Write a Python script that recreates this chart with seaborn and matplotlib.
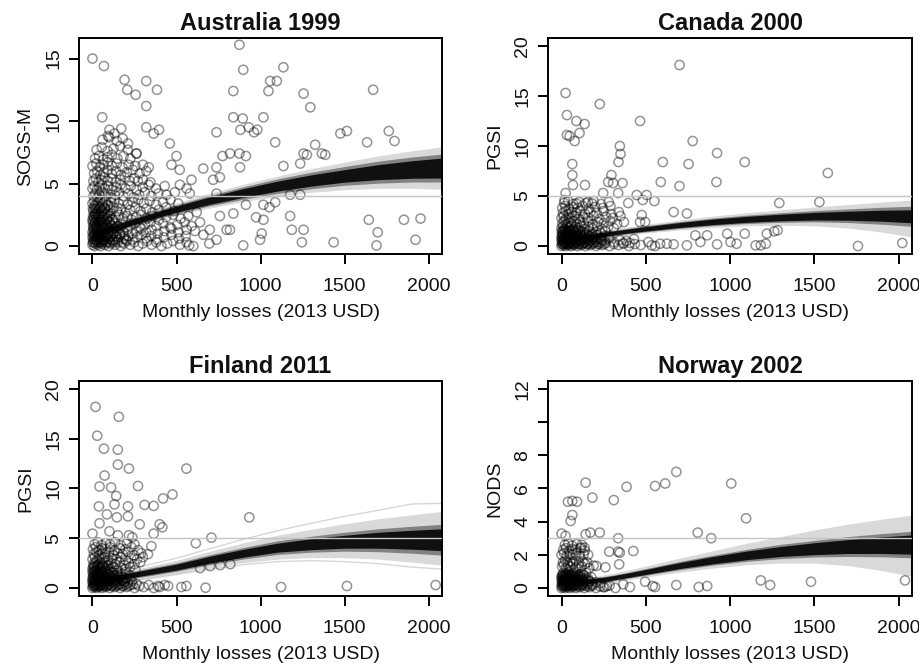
import numpy as np
import pandas as pd
import matplotlib
matplotlib.use("Agg")
import matplotlib.pyplot as plt
import seaborn as sns

# ---- data ----
loss_grid = [0, 100, 200, 300, 400, 500, 700, 900, 1100, 1300, 1500, 1700, 1900, 2080]
loss_ticks = [0, 500, 1000, 1500, 2000]

# Australia 1999 (SOGS-M)
aus_points = [
    # dense cluster
    (0, 0.1), (6, 0.3), (12, 0.0), (18, 0.2), (25, 0.4), (32, 0.1), (40, 0.3), (48, 0.0), (56, 0.2), (65, 0.4),
    (74, 0.1), (85, 0.3), (96, 0.0), (108, 0.2), (120, 0.4), (135, 0.1), (150, 0.3), (168, 0.0), (186, 0.2),
    (205, 0.4), (225, 0.1), (248, 0.3), (272, 0.0), (298, 0.2), (325, 0.4), (352, 0.1), (380, 0.3), (410, 0.0),
    (445, 0.2), (480, 0.4), (520, 0.1), (560, 0.3), (600, 0.0),
    (2, 0.6), (9, 0.8), (16, 0.5), (24, 0.7), (33, 0.9), (42, 0.6), (52, 0.8), (62, 0.5), (72, 0.7), (84, 0.9),
    (97, 0.6), (112, 0.8), (128, 0.5), (146, 0.7), (166, 0.9), (188, 0.6), (212, 0.8), (238, 0.5), (265, 0.7),
    (292, 0.9), (320, 0.6), (350, 0.8), (385, 0.5), (425, 0.7), (470, 0.9), (515, 0.6), (555, 0.8),
    (0, 1.1), (8, 1.3), (15, 1.0), (22, 1.2), (30, 1.4), (38, 1.1), (47, 1.3), (57, 1.0), (68, 1.2), (80, 1.4),
    (93, 1.1), (108, 1.3), (124, 1.0), (142, 1.2), (162, 1.4), (184, 1.1), (208, 1.3), (234, 1.0), (262, 1.2),
    (290, 1.4), (320, 1.1), (352, 1.3), (388, 1.0), (428, 1.2), (470, 1.4), (512, 1.1), (560, 1.3), (610, 1.2),
    (4, 1.6), (12, 1.8), (20, 1.5), (29, 1.7), (38, 1.9), (48, 1.6), (59, 1.8), (71, 1.5), (84, 1.7), (98, 1.9),
    (114, 1.6), (132, 1.8), (152, 1.5), (174, 1.7), (198, 1.9), (224, 1.6), (252, 1.8), (282, 1.5), (312, 1.7),
    (345, 1.9), (380, 1.6), (420, 1.8), (462, 1.5), (505, 1.7), (548, 1.9), (590, 1.6),
    (0, 2.1), (8, 2.3), (17, 2.5), (26, 2.2), (36, 2.4), (47, 2.1), (59, 2.3), (72, 2.5), (86, 2.2), (101, 2.4),
    (118, 2.1), (137, 2.3), (158, 2.5), (181, 2.2), (206, 2.4), (233, 2.1), (262, 2.3), (292, 2.5), (324, 2.2),
    (358, 2.4), (395, 2.1), (438, 2.3), (480, 2.5), (525, 2.2), (570, 2.4),
    (5, 2.8), (14, 3.0), (24, 2.7), (35, 2.9), (47, 3.1), (60, 2.8), (74, 3.0), (90, 2.7), (107, 2.9), (126, 3.1),
    (147, 2.8), (170, 3.0), (196, 2.7), (224, 2.9), (254, 3.1), (286, 2.8), (320, 3.0), (356, 2.7), (395, 2.9),
    (438, 3.1), (485, 2.8),
    (0, 3.4), (10, 3.6), (21, 3.3), (33, 3.5), (46, 3.7), (60, 3.4), (76, 3.6), (93, 3.3), (112, 3.5), (133, 3.7),
    (156, 3.4), (182, 3.6), (210, 3.3), (240, 3.5), (272, 3.7), (305, 3.4), (340, 3.6), (378, 3.3), (420, 3.5),
    (465, 3.7), (510, 3.4),
    (6, 4.0), (17, 4.2), (29, 3.9), (42, 4.1), (57, 4.3), (73, 4.0), (91, 4.2), (111, 3.9), (133, 4.1), (157, 4.3),
    (184, 4.0), (213, 4.2), (245, 3.9), (278, 4.1), (312, 4.3), (350, 4.0), (392, 4.2), (440, 4.1), (490, 4.3),
    (0, 4.6), (12, 4.8), (26, 4.5), (41, 4.7), (57, 4.9), (75, 4.6), (95, 4.8), (117, 4.5), (141, 4.7), (167, 4.9),
    (196, 4.6), (228, 4.8), (262, 4.5), (298, 4.7), (335, 4.9), (378, 4.6), (430, 4.8), (520, 4.9), (560, 4.6),
    (5, 5.2), (20, 5.4), (36, 5.1), (53, 5.3), (72, 5.5), (92, 5.2), (114, 5.4), (138, 5.1), (164, 5.3), (192, 5.5),
    (222, 5.2), (250, 5.4), (270, 5.2), (300, 5.3), (345, 5.1),
    (10, 5.8), (28, 6.0), (47, 5.7), (68, 5.9), (90, 6.1), (114, 5.8), (140, 6.0), (170, 5.7), (205, 5.9),
    (240, 6.1), (280, 5.8), (320, 6.0),
    (0, 6.4), (22, 6.6), (44, 6.3), (66, 6.5), (90, 6.7), (116, 6.4), (145, 6.6), (178, 6.3), (215, 6.5),
    (255, 6.4), (300, 6.5), (335, 6.3),
    (15, 7.0), (38, 7.2), (62, 6.9), (88, 7.1), (116, 7.3), (148, 7.0), (185, 7.2), (225, 7.0), (262, 7.4),
    (25, 7.7), (55, 7.9), (90, 7.6), (125, 7.8), (165, 8.0), (210, 7.7),
    (60, 8.5), (100, 8.7), (145, 8.4), (180, 8.6),
    # scattered
    (0, 15.0), (68, 14.4), (191, 13.3), (207, 12.5), (257, 12.1), (320, 13.2), (384, 12.5), (320, 11.2),
    (58, 10.3), (320, 9.5), (396, 9.3), (364, 9.0), (101, 9.3), (131, 9.0), (171, 9.4), (92, 8.8), (460, 8.2),
    (211, 8.2), (261, 7.4), (500, 7.2), (470, 6.5), (519, 6.1), (659, 6.2), (738, 6.3), (774, 7.2), (818, 7.4),
    (718, 5.3), (758, 5.5), (589, 5.3), (579, 4.2), (738, 4.2),
    (874, 16.1), (897, 14.1), (838, 12.4), (1047, 12.4), (1057, 13.2), (1097, 13.2), (1136, 14.3), (1256, 12.2),
    (1296, 11.1), (838, 10.3), (894, 10.2), (1017, 10.3), (880, 9.3), (930, 9.5), (961, 9.1), (981, 9.3),
    (738, 9.1), (1087, 8.3), (874, 7.4), (913, 7.2), (878, 6.3), (1325, 8.1), (1256, 7.4), (1276, 7.3),
    (1365, 7.4), (1385, 7.3), (1475, 9.0), (1514, 9.2), (1634, 8.3), (1670, 12.5), (1763, 9.2), (1797, 8.4),
    (1136, 6.4), (1236, 6.6), (1176, 4.1), (1236, 4.1),
    (1644, 2.1), (1697, 1.1), (1690, 0.05), (1853, 2.1), (1952, 2.2), (1922, 0.5), (1435, 0.3), (1246, 0.3),
    (1256, 1.3), (1176, 2.4), (1186, 1.3), (1017, 2.1), (973, 2.3), (1007, 1.0), (997, 0.5), (897, 0.05),
    (1053, 3.1), (1017, 3.3), (1087, 3.5), (913, 3.3), (838, 2.6), (818, 1.3), (798, 1.3), (758, 2.4),
    (698, 1.3), (695, 0.2), (738, 0.5), (575, 0.05), (640, 1.9), (660, 0.9), (620, 2.7),
]
# extra respondents packed near the origin (the solid black blob)
aus_core_points = [
    (3, 0.3), (10, 0.5), (17, 0.3), (24, 0.5), (31, 0.3), (38, 0.5), (45, 0.3), (53, 0.5), (61, 0.3), (70, 0.5),
    (80, 0.3), (90, 0.5), (102, 0.3), (115, 0.5), (130, 0.3), (150, 0.5), (175, 0.3), (200, 0.5),
    (1, 0.8), (8, 1.0), (15, 0.8), (22, 1.0), (29, 0.8), (36, 1.0), (44, 0.8), (52, 1.0), (61, 0.8), (71, 1.0),
    (82, 0.8), (94, 1.0), (108, 0.8), (124, 1.0), (142, 0.8), (165, 1.0), (190, 0.8),
    (5, 1.4), (12, 1.6), (19, 1.4), (26, 1.6), (34, 1.4), (42, 1.6), (51, 1.4), (61, 1.6), (72, 1.4), (84, 1.6),
    (97, 1.4), (112, 1.6), (130, 1.4), (150, 1.6),
    (2, 1.9), (9, 2.1), (16, 1.9), (24, 2.1), (32, 1.9), (41, 2.1), (51, 1.9), (62, 2.1), (74, 1.9), (88, 2.1),
    (104, 1.9), (122, 2.1),
    (4, 2.4), (12, 2.6), (20, 2.4), (29, 2.6), (39, 2.4), (50, 2.6), (62, 2.4), (76, 2.6), (92, 2.4), (110, 2.6),
    (3, 3.0), (12, 3.2), (22, 3.0), (33, 3.2), (45, 3.0), (58, 3.2), (73, 3.0), (90, 3.2),
]
aus_core_lo = [0.64, 1.10, 1.53, 1.94, 2.33, 2.70, 3.34, 3.90, 4.39, 4.79, 5.11, 5.31, 5.42, 5.44]
aus_core_hi = [1.08, 1.54, 1.97, 2.40, 2.81, 3.20, 3.94, 4.60, 5.19, 5.69, 6.11, 6.51, 6.82, 7.04]
aus_inner_lo = [0.56, 1.02, 1.45, 1.85, 2.23, 2.59, 3.22, 3.75, 4.21, 4.58, 4.86, 5.03, 5.12, 5.12]
aus_inner_hi = [1.16, 1.62, 2.05, 2.49, 2.91, 3.31, 4.06, 4.75, 5.37, 5.90, 6.36, 6.79, 7.12, 7.36]
aus_outer_lo = [0.46, 0.92, 1.33, 1.72, 2.09, 2.45, 3.04, 3.55, 3.99, 4.29, 4.51, 4.61, 4.62, 4.54]
aus_outer_hi = [1.26, 1.72, 2.17, 2.62, 3.05, 3.45, 4.24, 4.95, 5.59, 6.19, 6.71, 7.21, 7.62, 7.94]

# Canada 2000 (PGSI)
can_points = [
    (0, 0.0), (6, 0.2), (12, 0.1), (18, 0.3), (25, 0.0), (32, 0.2), (40, 0.1), (48, 0.3), (56, 0.0), (65, 0.2),
    (74, 0.1), (84, 0.3), (95, 0.0), (106, 0.2), (118, 0.1), (130, 0.3), (143, 0.0), (157, 0.2), (172, 0.1),
    (188, 0.3), (205, 0.0), (223, 0.2), (242, 0.1), (262, 0.3), (285, 0.0), (310, 0.2), (338, 0.1), (368, 0.3),
    (400, 0.0), (435, 0.2), (470, 0.1),
    (3, 0.5), (10, 0.7), (17, 0.4), (24, 0.6), (32, 0.5), (40, 0.7), (49, 0.4), (58, 0.6), (68, 0.5), (78, 0.7),
    (89, 0.4), (101, 0.6), (114, 0.5), (128, 0.7), (143, 0.4), (159, 0.6), (176, 0.5), (194, 0.7), (213, 0.4),
    (233, 0.6), (255, 0.5), (280, 0.7), (310, 0.4), (345, 0.6), (385, 0.5), (430, 0.7),
    (0, 0.9), (7, 1.1), (14, 0.8), (22, 1.0), (30, 0.9), (39, 1.1), (48, 0.8), (58, 1.0), (69, 0.9), (81, 1.1),
    (94, 0.8), (108, 1.0), (123, 0.9), (139, 1.1), (156, 0.8), (174, 1.0), (193, 0.9), (213, 1.1), (235, 0.8),
    (258, 1.0), (285, 0.9),
    (4, 1.3), (12, 1.5), (20, 1.2), (29, 1.4), (38, 1.3), (48, 1.5), (59, 1.2), (71, 1.4), (84, 1.3), (98, 1.5),
    (113, 1.2), (129, 1.4), (146, 1.3), (164, 1.5), (183, 1.2), (205, 1.4), (230, 1.3), (260, 1.5),
    (0, 1.8), (9, 2.0), (19, 1.7), (30, 1.9), (42, 1.8), (55, 2.0), (69, 1.7), (84, 1.9), (100, 1.8), (118, 2.0),
    (138, 1.7), (160, 1.9), (185, 1.8), (212, 2.0), (242, 1.7), (275, 1.9), (310, 1.8),
    (5, 2.3), (16, 2.5), (28, 2.2), (41, 2.4), (56, 2.3), (72, 2.5), (90, 2.2), (110, 2.4), (132, 2.3), (157, 2.5),
    (185, 2.2), (215, 2.4), (250, 2.3), (290, 2.5), (330, 2.2), (370, 2.4),
    (0, 2.8), (12, 3.0), (26, 2.7), (42, 2.9), (60, 2.8), (80, 3.0), (102, 2.7), (128, 2.9), (157, 2.8), (190, 3.0),
    (225, 2.7), (265, 2.9), (305, 2.8), (350, 3.0),
    (8, 3.3), (24, 3.5), (42, 3.2), (62, 3.4), (85, 3.3), (110, 3.5), (140, 3.2), (172, 3.4), (208, 3.3),
    (250, 3.5), (295, 3.2), (340, 3.4),
    (4, 3.8), (22, 4.0), (44, 3.7), (68, 3.9), (95, 3.8), (125, 4.0), (160, 3.7), (200, 3.9), (245, 3.8), (290, 4.0),
    (15, 4.3), (40, 4.5), (70, 4.2), (105, 4.4), (145, 4.3), (190, 4.5), (235, 4.2), (280, 4.4),
    (24, 15.3), (32, 13.1), (32, 11.1), (48, 11.0), (88, 12.5), (137, 12.2), (107, 11.3), (78, 10.5), (227, 14.2),
    (466, 12.5), (700, 18.1), (778, 10.5), (754, 8.2), (601, 8.4), (923, 9.3), (919, 6.4), (1087, 8.4),
    (1580, 7.3), (1530, 4.4), (1292, 4.3), (700, 6.0), (589, 6.4), (346, 10.0), (350, 9.2), (338, 8.4),
    (64, 8.2), (64, 7.1), (68, 6.1), (139, 6.1), (296, 7.1), (277, 6.4), (306, 6.3), (362, 6.3), (336, 5.3),
    (247, 5.3), (446, 5.1), (505, 5.1), (482, 4.6), (551, 4.5), (396, 4.3), (665, 3.4), (744, 3.25), (476, 3.1),
    (496, 2.4), (466, 2.4), (24, 5.3), (18, 4.6), (88, 4.25), (157, 4.4), (181, 4.25),
    (824, 0.4), (923, 0.17), (1003, 0.4), (1039, 0.23), (1152, 0.07), (1182, 0.07), (1212, 0.23), (1759, 0.0),
    (2022, 0.3), (1087, 1.24), (1262, 1.47), (1218, 1.24), (1282, 1.57), (665, 0.17), (744, 0.07), (585, 0.23),
    (535, 0.07), (515, 0.4), (555, 0.0), (625, 0.23), (366, 0.23), (406, 0.3), (794, 1.07), (864, 1.07),
    (983, 1.24),
]
can_core_points = [
    (2, 0.2), (9, 0.35), (15, 0.2), (21, 0.35), (28, 0.2), (36, 0.35), (44, 0.2), (52, 0.35), (61, 0.2),
    (70, 0.35), (80, 0.2), (91, 0.35), (102, 0.2), (113, 0.35), (125, 0.2), (138, 0.35), (151, 0.2), (165, 0.35),
    (180, 0.2), (196, 0.35), (214, 0.2), (233, 0.35), (253, 0.2),
    (0, 0.6), (6, 0.75), (13, 0.6), (20, 0.75), (28, 0.6), (36, 0.75), (45, 0.6), (54, 0.75), (63, 0.6),
    (73, 0.75), (84, 0.6), (95, 0.75), (107, 0.6), (120, 0.75), (134, 0.6), (149, 0.75), (165, 0.6), (182, 0.75),
    (200, 0.6), (220, 0.75), (242, 0.6),
    (3, 1.0), (10, 1.15), (18, 1.0), (26, 1.15), (35, 1.0), (44, 1.15), (53, 1.0), (63, 1.15), (74, 1.0),
    (86, 1.15), (99, 1.0), (113, 1.15), (128, 1.0), (145, 1.15), (163, 1.0), (183, 1.15),
    (1, 1.45), (9, 1.6), (17, 1.45), (26, 1.6), (35, 1.45), (45, 1.6), (56, 1.45), (68, 1.6), (81, 1.45),
    (95, 1.6), (111, 1.45),
]
can_core_lo = [0.30, 0.58, 0.84, 1.08, 1.31, 1.50, 1.85, 2.14, 2.37, 2.52, 2.60, 2.58, 2.48, 2.32]
can_core_hi = [0.70, 0.98, 1.24, 1.48, 1.71, 1.94, 2.35, 2.70, 2.97, 3.18, 3.36, 3.48, 3.58, 3.62]
can_inner_lo = [0.22, 0.50, 0.76, 1.00, 1.23, 1.42, 1.76, 2.04, 2.25, 2.37, 2.42, 2.35, 2.18, 1.97]
can_inner_hi = [0.78, 1.06, 1.32, 1.56, 1.79, 2.02, 2.44, 2.80, 3.09, 3.33, 3.54, 3.71, 3.88, 3.97]
can_outer_lo = [0.12, 0.40, 0.66, 0.90, 1.12, 1.30, 1.60, 1.85, 2.02, 2.08, 2.02, 1.80, 1.40, 0.90]
can_outer_hi = [0.88, 1.16, 1.42, 1.68, 1.92, 2.16, 2.60, 3.00, 3.33, 3.62, 3.90, 4.15, 4.40, 4.60]

# Finland 2011 (PGSI)
fin_points = [
    (0, 0.0), (6, 0.2), (12, 0.1), (18, 0.3), (25, 0.0), (32, 0.2), (40, 0.1), (48, 0.3), (57, 0.0), (67, 0.2),
    (78, 0.1), (90, 0.3), (103, 0.0), (117, 0.2), (132, 0.1), (148, 0.3), (165, 0.0), (183, 0.2), (203, 0.1),
    (225, 0.3), (250, 0.0), (278, 0.2), (305, 0.1), (335, 0.3), (365, 0.0),
    (3, 0.5), (10, 0.7), (17, 0.4), (25, 0.6), (33, 0.5), (42, 0.7), (52, 0.4), (63, 0.6), (75, 0.5), (88, 0.7),
    (102, 0.4), (117, 0.6), (133, 0.5), (150, 0.7), (168, 0.4), (188, 0.6), (210, 0.5), (235, 0.7), (262, 0.4),
    (0, 0.9), (7, 1.1), (15, 0.8), (23, 1.0), (32, 0.9), (42, 1.1), (53, 0.8), (65, 1.0), (78, 0.9), (92, 1.1),
    (107, 0.8), (123, 1.0), (140, 0.9), (158, 1.1), (178, 0.8), (200, 1.0), (225, 0.9),
    (4, 1.4), (12, 1.6), (21, 1.3), (31, 1.5), (42, 1.4), (54, 1.6), (67, 1.3), (81, 1.5), (96, 1.4), (112, 1.6),
    (130, 1.3), (150, 1.5), (172, 1.4), (196, 1.6), (222, 1.3),
    (0, 1.9), (10, 2.1), (21, 1.8), (33, 2.0), (46, 1.9), (60, 2.1), (75, 1.8), (91, 2.0), (108, 1.9), (127, 2.1),
    (148, 1.8), (171, 2.0), (196, 1.9), (224, 2.1), (255, 1.8),
    (6, 2.4), (18, 2.6), (31, 2.3), (45, 2.5), (60, 2.4), (77, 2.6), (95, 2.3), (115, 2.5), (137, 2.4), (161, 2.6),
    (188, 2.3), (218, 2.5), (250, 2.4), (285, 2.6),
    (0, 2.9), (13, 3.1), (27, 2.8), (42, 3.0), (58, 2.9), (76, 3.1), (96, 2.8), (118, 3.0), (142, 2.9), (168, 3.1),
    (198, 2.8), (230, 3.0), (265, 2.9), (300, 3.1),
    (8, 3.4), (23, 3.6), (39, 3.3), (57, 3.5), (77, 3.4), (99, 3.6), (123, 3.3), (150, 3.5), (180, 3.4),
    (212, 3.6), (248, 3.3), (290, 3.5), (330, 3.4),
    (3, 3.9), (20, 4.1), (38, 3.8), (58, 4.0), (80, 3.9), (105, 4.1), (132, 3.8), (162, 4.0), (195, 3.9),
    (232, 4.1), (272, 3.8),
    (12, 4.4), (32, 4.6), (54, 4.3), (78, 4.5), (105, 4.4), (135, 4.6), (168, 4.3), (205, 4.5), (250, 4.4),
    (18, 18.2), (157, 17.2), (28, 15.3), (68, 14.0), (151, 13.9), (151, 12.4), (217, 12.0), (559, 12.0),
    (72, 11.3), (42, 10.2), (111, 10.1), (271, 10.25), (141, 9.25), (476, 9.4), (420, 9.0), (38, 8.2),
    (131, 8.4), (211, 8.2), (310, 8.35), (364, 8.25), (86, 7.4), (145, 7.1), (211, 7.2), (281, 6.4), (400, 6.4),
    (416, 6.1), (933, 7.1), (615, 4.5), (708, 5.06), (217, 5.3), (364, 5.46), (0, 5.46), (42, 6.5), (101, 5.7),
    (151, 5.3), (237, 5.1), (350, 4.2),
    (1122, 0.1), (1514, 0.2), (2042, 0.3), (673, 0.03), (559, 0.2), (529, 0.1), (450, 0.2), (400, 0.1),
    (430, 0.3), (390, 0.2), (640, 2.0), (700, 2.2), (760, 2.3), (820, 2.4),
]
fin_core_points = [
    (2, 0.2), (9, 0.35), (15, 0.2), (22, 0.35), (29, 0.2), (36, 0.35), (44, 0.2), (52, 0.35), (62, 0.2),
    (72, 0.35), (84, 0.2), (96, 0.35), (110, 0.2), (125, 0.35), (140, 0.2), (157, 0.35), (175, 0.2), (194, 0.35),
    (215, 0.2), (240, 0.35),
    (0, 0.65), (6, 0.8), (13, 0.65), (20, 0.8), (28, 0.65), (37, 0.8), (46, 0.65), (56, 0.8), (67, 0.65),
    (79, 0.8), (92, 0.65), (106, 0.8), (121, 0.65), (137, 0.8), (155, 0.65), (174, 0.8), (195, 0.65),
    (3, 1.1), (10, 1.25), (18, 1.1), (27, 1.25), (36, 1.1), (46, 1.25), (57, 1.1), (69, 1.25), (82, 1.1),
    (96, 1.25), (111, 1.1), (128, 1.25), (146, 1.1), (166, 1.25),
    (1, 1.6), (9, 1.75), (17, 1.6), (26, 1.75), (36, 1.6), (47, 1.75), (59, 1.6), (72, 1.75), (86, 1.6),
    (102, 1.75), (120, 1.6),
    (4, 2.1), (13, 2.25), (23, 2.1), (34, 2.25), (46, 2.1), (59, 2.25), (74, 2.1), (90, 2.25),
]
fin_core_lo = [0.55, 0.70, 0.95, 1.23, 1.52, 1.80, 2.50, 3.10, 3.60, 3.85, 4.00, 4.00, 3.90, 3.75]
fin_core_hi = [1.05, 1.20, 1.45, 1.77, 2.08, 2.40, 3.20, 3.90, 4.50, 4.95, 5.30, 5.60, 5.80, 5.95]
fin_inner_lo = [0.45, 0.60, 0.85, 1.13, 1.40, 1.68, 2.35, 2.92, 3.37, 3.60, 3.70, 3.65, 3.50, 3.30]
fin_inner_hi = [1.15, 1.30, 1.55, 1.87, 2.20, 2.52, 3.35, 4.08, 4.73, 5.20, 5.60, 5.95, 6.20, 6.40]
fin_outer_lo = [0.30, 0.45, 0.70, 0.95, 1.20, 1.45, 2.05, 2.55, 2.90, 3.05, 3.05, 2.90, 2.60, 2.30]
fin_outer_hi = [1.30, 1.45, 1.72, 2.05, 2.42, 2.78, 3.70, 4.55, 5.30, 5.90, 6.45, 6.95, 7.35, 7.70]
fin_edge_hi = [1.40, 1.55, 1.85, 2.20, 2.60, 3.00, 3.95, 4.90, 5.75, 6.50, 7.20, 7.80, 8.45, 8.50]
fin_edge_lo = [0.30, 0.40, 0.60, 0.85, 1.10, 1.35, 1.90, 2.35, 2.65, 2.75, 2.65, 2.45, 2.10, 1.90]

# Norway 2002 (NODS)
nor_points = [
    (0, 0.0), (5, 0.1), (10, 0.05), (16, 0.15), (22, 0.0), (28, 0.1), (35, 0.05), (42, 0.15), (50, 0.0),
    (58, 0.1), (67, 0.05), (76, 0.15), (86, 0.0), (97, 0.1), (109, 0.05), (122, 0.15), (136, 0.0), (151, 0.1),
    (167, 0.05), (185, 0.15), (205, 0.0), (228, 0.1), (255, 0.05), (285, 0.15), (320, 0.0),
    (2, 0.3), (8, 0.4), (14, 0.25), (20, 0.35), (27, 0.3), (34, 0.4), (41, 0.25), (49, 0.35), (57, 0.3),
    (66, 0.4), (75, 0.25), (85, 0.35), (96, 0.3), (108, 0.4), (121, 0.25), (135, 0.35), (150, 0.3), (166, 0.4),
    (184, 0.25), (205, 0.35), (230, 0.3),
    (0, 0.55), (6, 0.65), (12, 0.5), (19, 0.6), (26, 0.55), (33, 0.65), (41, 0.5), (49, 0.6), (58, 0.55),
    (67, 0.65), (77, 0.5), (88, 0.6), (100, 0.55), (113, 0.65), (127, 0.5), (142, 0.6), (158, 0.55), (176, 0.65),
    (4, 0.8), (11, 0.9), (18, 0.75), (26, 0.85), (34, 0.8), (43, 0.9), (52, 0.75), (62, 0.85), (73, 0.8),
    (85, 0.9), (98, 0.75), (112, 0.85), (128, 0.8), (146, 0.9),
    (3, 1.3), (14, 1.4), (26, 1.2), (39, 1.35), (53, 1.3), (68, 1.45), (84, 1.2), (101, 1.35), (120, 1.3),
    (140, 1.45), (165, 1.2), (190, 1.35),
    (8, 1.55), (22, 1.65), (36, 1.5), (51, 1.6), (67, 1.55), (85, 1.65), (105, 1.5), (127, 1.6), (152, 1.55),
    (0, 2.0), (15, 2.1), (31, 1.95), (48, 2.05), (66, 2.0), (86, 2.1), (108, 1.95), (132, 2.05), (158, 2.0),
    (10, 2.3), (27, 2.4), (45, 2.25), (64, 2.35), (85, 2.3), (110, 2.4), (138, 2.25),
    (20, 2.6), (40, 2.7), (62, 2.55), (90, 2.65), (120, 2.6),
    (143, 6.35), (183, 5.45), (38, 5.2), (64, 5.25), (92, 5.2), (64, 4.4), (54, 4.04), (310, 5.3), (386, 6.1),
    (555, 6.15), (615, 6.3), (681, 7.0), (1007, 6.3), (1095, 4.2), (808, 3.34), (888, 3.0), (336, 3.0),
    (0, 3.28), (24, 3.14), (143, 3.24), (171, 3.34), (227, 3.34), (283, 2.19), (336, 2.19), (346, 2.13),
    (426, 2.23), (342, 1.43), (117, 2.43), (137, 2.43), (207, 1.33), (260, 1.25),
    (1182, 0.46), (1238, 0.18), (1480, 0.38), (2038, 0.46), (814, 0.06), (864, 0.12), (681, 0.18), (555, 0.06),
    (541, 0.12), (496, 0.38), (406, 0.06), (366, 0.22), (247, 0.06), (268, 0.12),
]
nor_core_points = [
    (1, 0.15), (7, 0.22), (13, 0.15), (19, 0.22), (25, 0.15), (32, 0.22), (39, 0.15), (46, 0.22), (54, 0.15),
    (62, 0.22), (71, 0.15), (81, 0.22), (91, 0.15), (102, 0.22), (114, 0.15), (127, 0.22), (141, 0.15),
    (157, 0.22), (175, 0.15),
    (3, 0.42), (9, 0.5), (16, 0.42), (23, 0.5), (30, 0.42), (37, 0.5), (45, 0.42), (53, 0.5), (62, 0.42),
    (71, 0.5), (81, 0.42), (92, 0.5), (104, 0.42), (117, 0.5), (131, 0.42), (147, 0.5), (164, 0.42),
    (0, 0.68), (7, 0.75), (14, 0.68), (22, 0.75), (30, 0.68), (38, 0.75), (47, 0.68), (56, 0.75), (66, 0.68),
    (77, 0.75), (89, 0.68), (102, 0.75), (116, 0.68), (132, 0.75),
]
nor_core_lo = [0.18, 0.23, 0.33, 0.47, 0.64, 0.82, 1.17, 1.46, 1.71, 1.90, 2.01, 2.08, 2.08, 2.04]
nor_core_hi = [0.42, 0.47, 0.57, 0.73, 0.92, 1.12, 1.53, 1.90, 2.23, 2.50, 2.73, 2.92, 3.08, 3.20]
nor_inner_lo = [0.14, 0.19, 0.29, 0.43, 0.60, 0.77, 1.10, 1.38, 1.61, 1.77, 1.87, 1.90, 1.88, 1.82]
nor_inner_hi = [0.46, 0.51, 0.61, 0.77, 0.96, 1.17, 1.60, 1.98, 2.33, 2.63, 2.87, 3.10, 3.28, 3.42]
nor_outer_lo = [0.08, 0.13, 0.22, 0.35, 0.50, 0.66, 0.95, 1.20, 1.40, 1.50, 1.50, 1.35, 1.05, 0.70]
nor_outer_hi = [0.52, 0.58, 0.70, 0.88, 1.10, 1.33, 1.80, 2.25, 2.70, 3.10, 3.50, 3.85, 4.15, 4.40]

# ---- style ----
sns.set_theme(style="white")
plt.rcParams['font.family'] = ['Liberation Sans', 'DejaVu Sans']
plt.rcParams['axes.edgecolor'] = 'black'
plt.rcParams['axes.linewidth'] = 1.4


def draw_panel(ax, points, bands, edges, cutoff, ylim, yticks, ylabels, ylabel, title):
    df = pd.DataFrame(points, columns=['loss', 'score'])
    sns.scatterplot(data=df, x='loss', y='score', ax=ax, marker='o', s=44,
                    facecolor='none', edgecolor=(0, 0, 0, 0.42), linewidth=1.1, zorder=2)
    # bootstrap fits drawn as stacked translucent bands (outer -> core)
    for lo, hi, a in bands:
        ax.fill_between(loss_grid, lo, hi, color='black', alpha=a, linewidth=0, zorder=3)
    for e in edges:
        sns.lineplot(x=loss_grid, y=e, ax=ax, color='black', alpha=0.16, linewidth=1.0, zorder=3)
    ax.axhline(cutoff, color='#c4c4c4', linewidth=1.0, zorder=4)

    ax.set_xlim(-80, 2080)
    ax.set_ylim(*ylim)
    ax.set_xticks(loss_ticks)
    ax.set_xticklabels([str(t) for t in loss_ticks])
    ax.set_yticks(yticks)
    ax.set_yticklabels(ylabels, rotation=90, va='center')
    ax.tick_params(axis='both', direction='out', length=7, width=1.4, color='black',
                   labelsize=14, labelcolor='#111111', bottom=True, left=True)
    ax.tick_params(axis='x', pad=10)
    ax.tick_params(axis='y', pad=5)
    ax.set_xlabel('Monthly losses (2013 USD)', fontsize=14, labelpad=7, color='#111111')
    ax.set_ylabel(ylabel, fontsize=14, labelpad=8, color='#111111')
    ax.set_title(title, fontsize=17, fontweight='bold', pad=6, color='#111111')
    for sp in ax.spines.values():
        sp.set_visible(True)
        sp.set_color('black')
        sp.set_linewidth(1.4)


fig = plt.figure(figsize=(9.2, 6.65), dpi=100)
ax1 = fig.add_axes([0.0859, 0.6180, 0.3946, 0.3248])
ax2 = fig.add_axes([0.5957, 0.6180, 0.3957, 0.3248])
ax3 = fig.add_axes([0.0859, 0.1038, 0.3946, 0.3233])
ax4 = fig.add_axes([0.5957, 0.1038, 0.3957, 0.3233])

draw_panel(ax1, aus_points + aus_core_points,
           [(aus_outer_lo, aus_outer_hi, 0.15), (aus_inner_lo, aus_inner_hi, 0.4), (aus_core_lo, aus_core_hi, 0.88)],
           [], 4, (-0.64, 16.64), [0, 5, 10, 15], ['0', '5', '10', '15'], 'SOGS-M', 'Australia 1999')
draw_panel(ax2, can_points + can_core_points,
           [(can_outer_lo, can_outer_hi, 0.15), (can_inner_lo, can_inner_hi, 0.4), (can_core_lo, can_core_hi, 0.88)],
           [], 5, (-0.8, 20.8), [0, 5, 10, 15, 20], ['0', '5', '10', '15', '20'], 'PGSI', 'Canada 2000')
draw_panel(ax3, fin_points + fin_core_points,
           [(fin_outer_lo, fin_outer_hi, 0.15), (fin_inner_lo, fin_inner_hi, 0.4), (fin_core_lo, fin_core_hi, 0.88)],
           [fin_edge_hi, fin_edge_lo], 5, (-0.8, 20.8), [0, 5, 10, 15, 20], ['0', '5', '10', '15', '20'],
           'PGSI', 'Finland 2011')
draw_panel(ax4, nor_points + nor_core_points,
           [(nor_outer_lo, nor_outer_hi, 0.15), (nor_inner_lo, nor_inner_hi, 0.4), (nor_core_lo, nor_core_hi, 0.88)],
           [], 3, (-0.48, 12.48), [0, 2, 4, 6, 8, 10, 12], ['0', '2', '4', '6', '8', '', '12'],
           'NODS', 'Norway 2002')

fig.savefig('out.png', dpi=100)
